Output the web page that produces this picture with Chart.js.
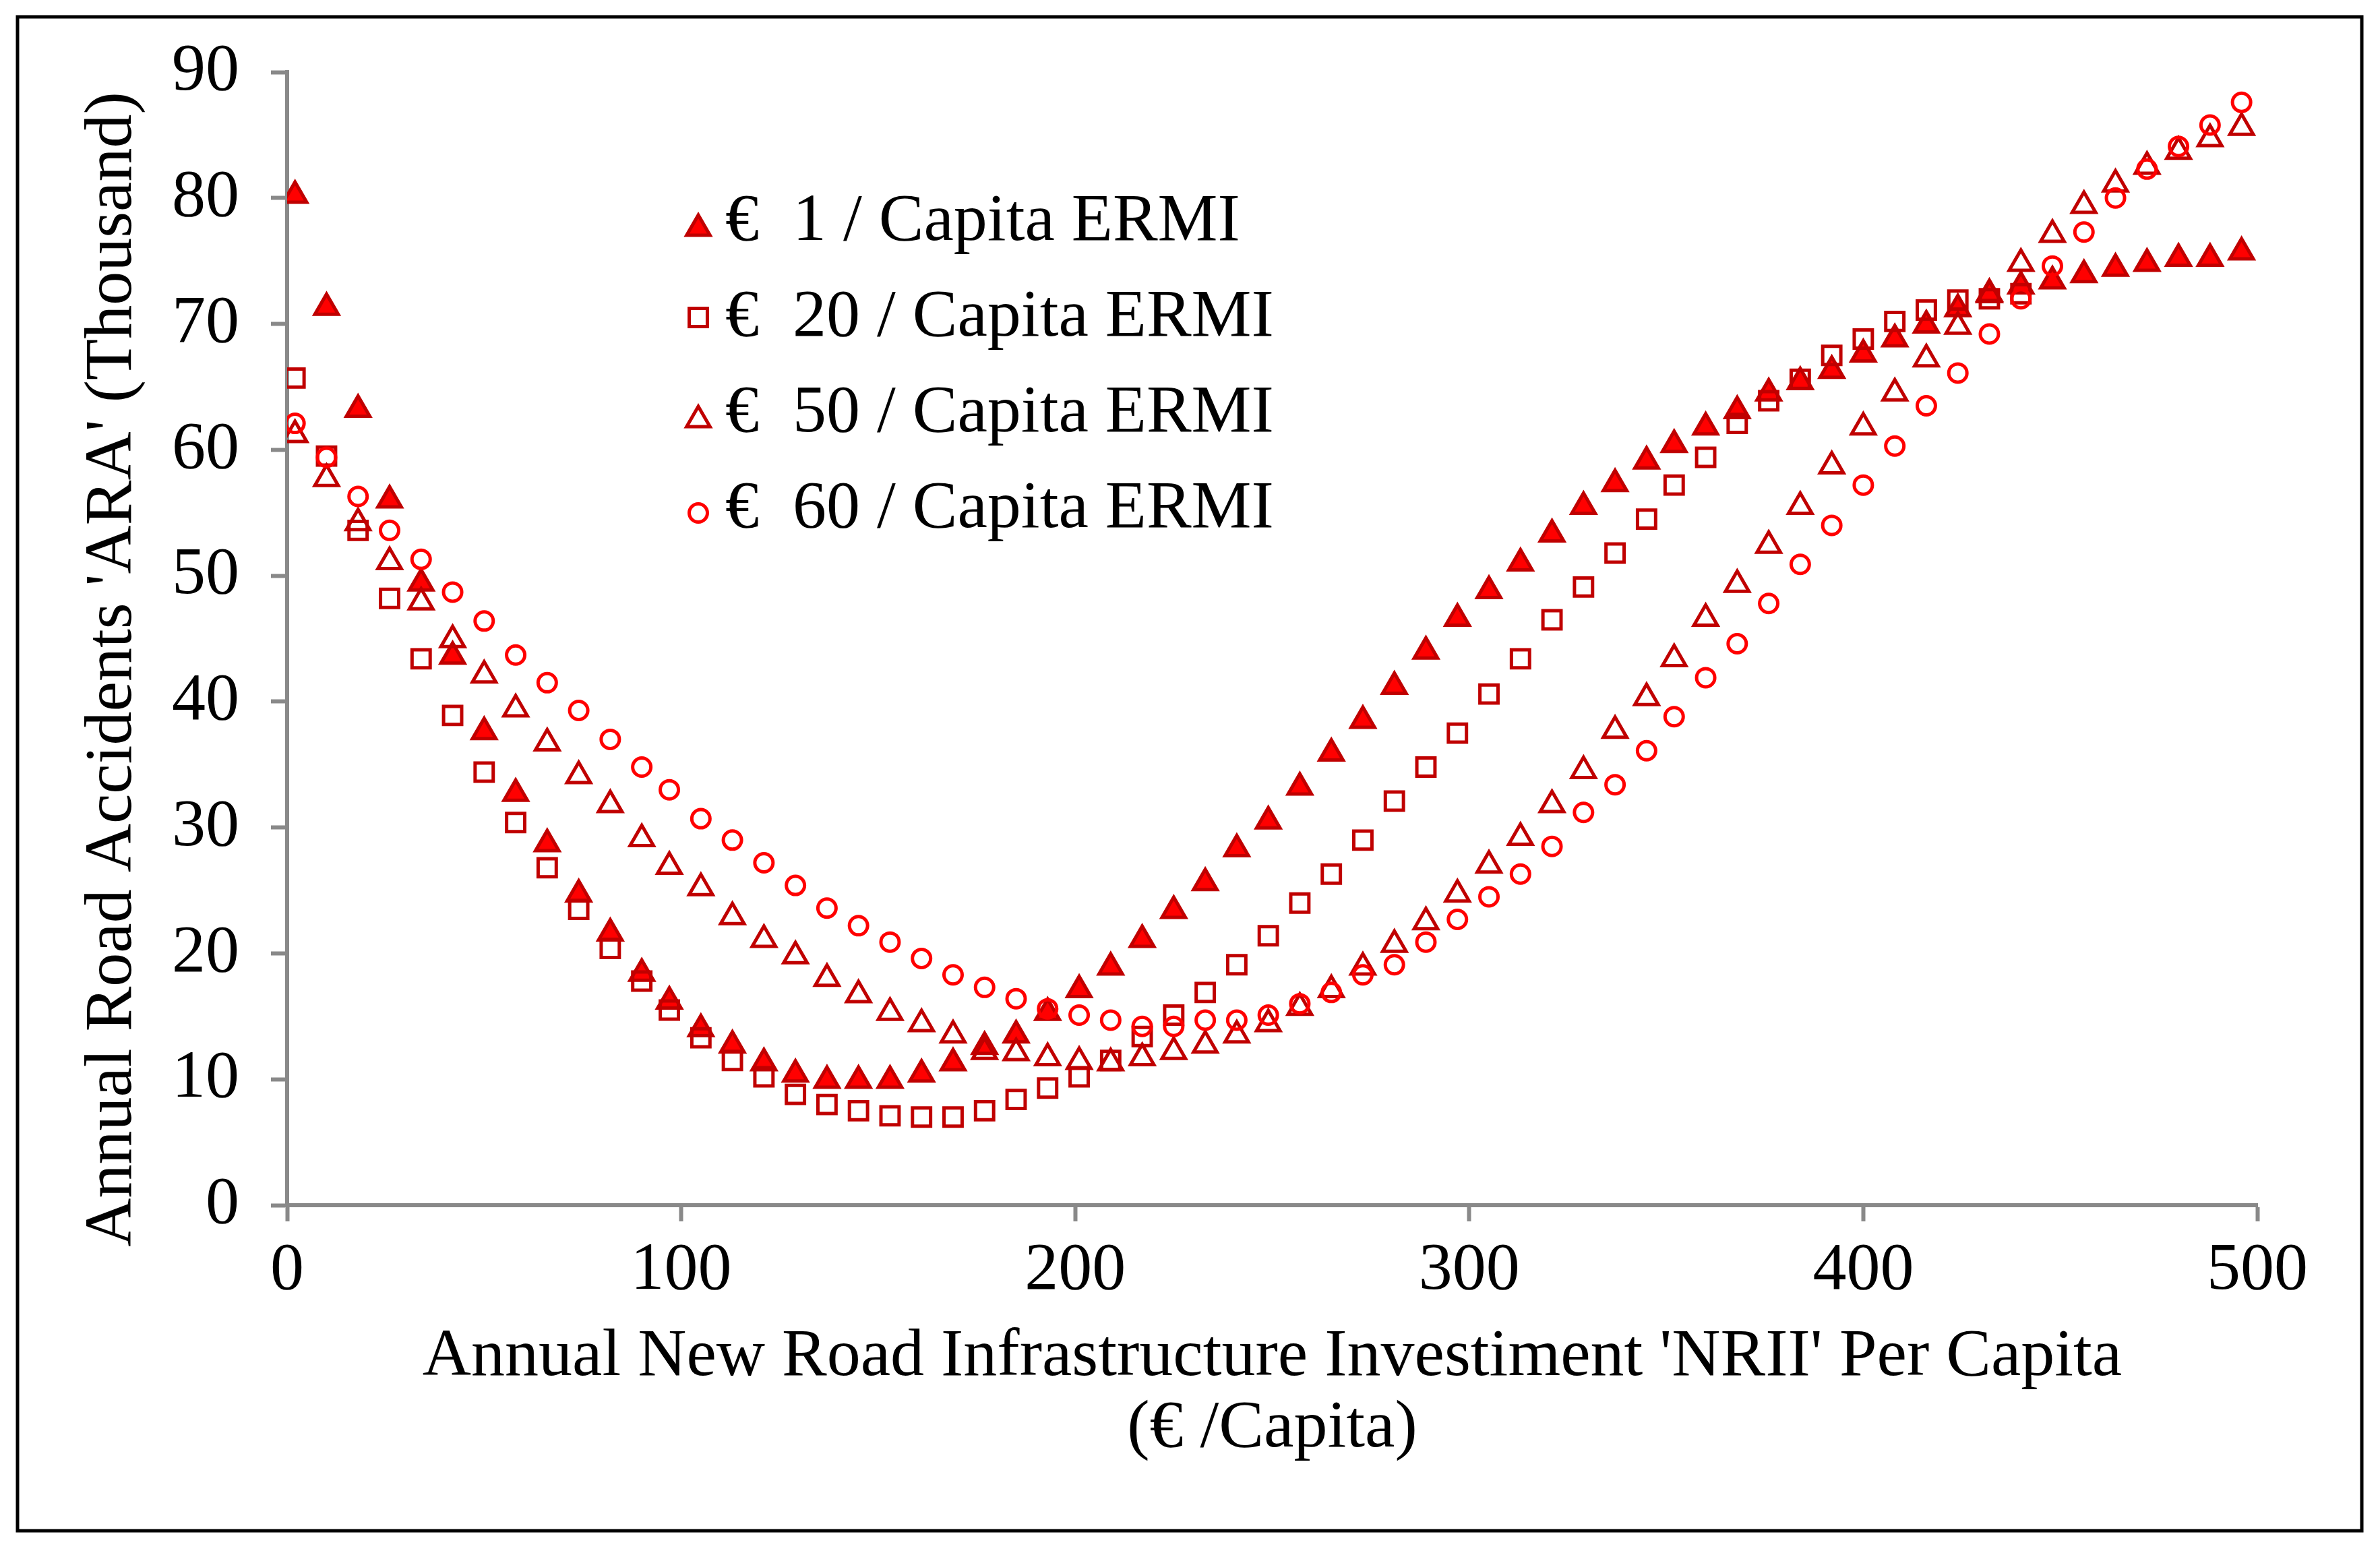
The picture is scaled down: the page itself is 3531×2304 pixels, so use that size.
<!DOCTYPE html>
<html>
<head>
<meta charset="utf-8">
<script src="https://cdn.jsdelivr.net/npm/chart.js@4.4.1/dist/chart.umd.min.js"></script>
<style>
  html, body { margin: 0; padding: 0; background: #fff; }
  #wrap { width: 3531px; height: 2304px; position: relative; }
</style>
</head>
<body>
<div id="wrap"><canvas id="chart"></canvas></div>
<script>
// NRII per capita (x), shared by every series
const nrii = [2, 10, 18, 26, 34, 42, 50, 58, 66, 74,
  82, 90, 97, 105, 113, 121, 129, 137, 145, 153,
  161, 169, 177, 185, 193, 201, 209, 217, 225, 233,
  241, 249, 257, 265, 273, 281, 289, 297, 305, 313,
  321, 329, 337, 345, 352, 360, 368, 376, 384, 392,
  400, 408, 416, 424, 432, 440, 448, 456, 464, 472,
  480, 488, 496];

// Annual road accidents (thousand) for each ERMI level
const ermi1 = [80.2, 71.3, 63.2, 56.0, 49.4, 43.6, 37.6, 32.7, 28.7, 24.7,
  21.6, 18.4, 16.2, 14.0, 12.7, 11.3, 10.4, 9.9, 9.9, 9.9,
  10.4, 11.3, 12.6, 13.5, 15.3, 17.1, 18.9, 21.1, 23.4, 25.6,
  28.3, 30.5, 33.2, 35.9, 38.5, 41.2, 44.0, 46.6, 48.8, 51.0,
  53.3, 55.5, 57.3, 59.1, 60.4, 61.8, 63.1, 64.5, 65.4, 66.3,
  67.6, 68.8, 69.9, 71.2, 72.4, 73.0, 73.4, 73.9, 74.4, 74.8,
  75.2, 75.2, 75.7];
const ermi20 = [65.7, 59.5, 53.6, 48.2, 43.4, 38.9, 34.4, 30.4, 26.8, 23.5,
  20.4, 17.8, 15.5, 13.3, 11.5, 10.2, 8.8, 8.0, 7.5, 7.1,
  7.0, 7.0, 7.5, 8.4, 9.3, 10.2, 11.5, 13.4, 15.1, 16.9,
  19.1, 21.4, 24.0, 26.3, 29.0, 32.1, 34.8, 37.5, 40.6, 43.4,
  46.5, 49.1, 51.8, 54.5, 57.2, 59.4, 62.1, 63.9, 65.6, 67.5,
  68.8, 70.2, 71.1, 71.9, 72.0, 72.4];
const ermi50 = [61.2, 57.7, 54.2, 51.1, 47.9, 44.9, 42.1, 39.4, 36.7, 34.1,
  31.8, 29.1, 26.9, 25.2, 22.9, 21.1, 19.8, 18.0, 16.7, 15.3,
  14.4, 13.5, 12.2, 12.1, 11.7, 11.4, 11.3, 11.7, 12.2, 12.7,
  13.5, 14.4, 15.7, 17.1, 18.9, 20.7, 22.5, 24.7, 27.0, 29.2,
  31.8, 34.5, 37.7, 40.3, 43.4, 46.6, 49.3, 52.4, 55.5, 58.7,
  61.8, 64.5, 67.2, 69.8, 72.3, 74.8, 77.1, 79.4, 81.1, 82.5,
  83.7, 84.7, 85.6];
const ermi60 = [62.1, 59.4, 56.3, 53.6, 51.3, 48.7, 46.4, 43.7, 41.5, 39.3,
  37.0, 34.8, 33.0, 30.7, 29.0, 27.2, 25.4, 23.6, 22.2, 20.9,
  19.6, 18.3, 17.3, 16.4, 15.6, 15.1, 14.7, 14.2, 14.2, 14.7,
  14.7, 15.1, 16.0, 16.9, 18.3, 19.1, 20.9, 22.7, 24.5, 26.3,
  28.5, 31.2, 33.4, 36.1, 38.8, 41.9, 44.6, 47.8, 50.9, 54.0,
  57.2, 60.3, 63.5, 66.1, 69.2, 72.0, 74.6, 77.3, 80.0, 82.3,
  84.1, 85.8, 87.6];

const seriesLabels = ['€  1 / Capita ERMI', '€  20 / Capita ERMI', '€  50 / Capita ERMI', '€  60 / Capita ERMI'];
const xTicks = [0, 100, 200, 300, 400, 500];
const yTicks = [0, 10, 20, 30, 40, 50, 60, 70, 80, 90];
const xTitle = ["Annual New Road Infrastructure Investiment 'NRII' Per Capita", '(€ /Capita)'];
const yTitle = "Annual Road Accidents 'ARA' (Thousand)";

const serif = '"Liberation Serif", "Times New Roman", serif';
const axisGray = '#898989';
const darkRed = '#C00000';
const red = '#FF0000';
const clear = 'rgba(0,0,0,0)';

function points(values) {
  return values.map((v, i) => ({ x: nrii[i], y: v }));
}

const styles = [
  { pointStyle: 'triangle', radius: 20, bg: red, border: darkRed },
  { pointStyle: 'rect', radius: 19, bg: clear, border: darkRed },
  { pointStyle: 'triangle', radius: 20, bg: clear, border: darkRed },
  { pointStyle: 'circle', radius: 13.5, bg: clear, border: red }
];
const seriesValues = [ermi1, ermi20, ermi50, ermi60];

const datasets = seriesValues.map((vals, i) => ({
  label: seriesLabels[i],
  data: points(vals),
  pointStyle: styles[i].pointStyle,
  pointRadius: styles[i].radius,
  pointHoverRadius: styles[i].radius,
  pointBackgroundColor: styles[i].bg,
  pointBorderColor: styles[i].border,
  pointBorderWidth: 5,
  showLine: false,
  order: 4 - i // later series on top, like the original
}));

// legend inside the plot + y title sitting a bit low, as in the original
const overlay = {
  id: 'overlay',
  afterDraw(chart) {
    const ctx = chart.ctx;
    const markerX = 1036;
    const textX = 1076;
    const baselines = [356, 498, 640, 782];
    const markerY = [339, 471, 623, 761];
    ctx.save();
    ctx.font = '100px ' + serif;
    ctx.textBaseline = 'alphabetic';
    ctx.textAlign = 'left';
    styles.forEach((s, i) => {
      ctx.fillStyle = s.bg;
      ctx.strokeStyle = s.border;
      ctx.lineWidth = 5;
      Chart.helpers.drawPoint(ctx, { pointStyle: s.pointStyle, radius: s.radius, borderWidth: 5, rotation: 0 }, markerX, markerY[i]);
      ctx.fillStyle = '#000';
      ctx.fillText(seriesLabels[i], textX, baselines[i]);
    });

    ctx.translate(168, 993);
    ctx.rotate(-Math.PI / 2);
    ctx.textAlign = 'center';
    ctx.textBaseline = 'middle';
    ctx.fillText(yTitle, 0, 0);
    ctx.restore();
  }
};

const frame = {
  id: 'frame',
  beforeDraw(chart) {
    const ctx = chart.ctx;
    ctx.save();
    ctx.fillStyle = '#fff';
    ctx.fillRect(0, 0, chart.width, chart.height);
    ctx.restore();
  },
  afterDraw(chart) {
    const ctx = chart.ctx;
    ctx.save();
    ctx.strokeStyle = '#000';
    ctx.lineWidth = 5;
    ctx.strokeRect(26, 25, 3478, 2246);
    ctx.restore();
  }
};

new Chart(document.getElementById('chart'), {
  type: 'scatter',
  data: { datasets },
  plugins: [frame, overlay],
  options: {
    responsive: true,
    maintainAspectRatio: false,
    devicePixelRatio: 1,
    animation: false,
    layout: { padding: { top: 107, right: 182, bottom: 0, left: 0 } },
    plugins: {
      legend: { display: false },
      tooltip: { enabled: false }
    },
    scales: {
      x: {
        type: 'linear',
        min: 0,
        max: 500,
        afterBuildTicks: s => { s.ticks = xTicks.map(v => ({ value: v })); },
        afterFit: s => { s.height = 516; },
        grid: { drawOnChartArea: false, drawTicks: true, tickLength: 24, tickWidth: 6, tickColor: axisGray },
        border: { display: true, color: axisGray, width: 6 },
        ticks: { color: '#000', font: { family: serif, size: 100 }, padding: 14, maxRotation: 0 },
        title: {
          display: true,
          text: xTitle,
          color: '#000',
          font: { family: serif, size: 100, lineHeight: 1.06 },
          padding: { top: 0, bottom: 131 }
        }
      },
      y: {
        type: 'linear',
        min: 0,
        max: 90,
        afterBuildTicks: s => { s.ticks = yTicks.map(v => ({ value: v })); },
        afterFit: s => { s.width = 426; },
        grid: { drawOnChartArea: false, drawTicks: true, tickLength: 24, tickWidth: 6, tickColor: axisGray },
        border: { display: true, color: axisGray, width: 6 },
        ticks: { color: '#000', font: { family: serif, size: 100 }, padding: 47 }
      }
    }
  }
});
</script>
</body>
</html>
